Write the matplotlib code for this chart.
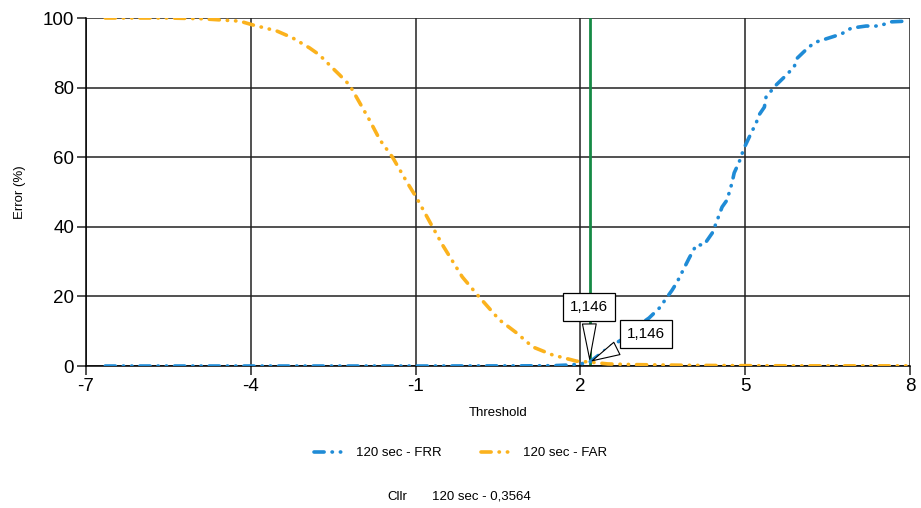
import matplotlib.pyplot as plt

plt.rcParams['font.family'] = ['Liberation Sans', 'DejaVu Sans']
plt.rcParams['axes.unicode_minus'] = False

# threshold / error (%) values
far_x = [-6.65, -5.5, -4.9, -4.2, -3.96, -3.53, -3.24, -2.93, -2.75, -2.51, -2.38, -2.2,
         -1.84, -1.65, -1.42, -1.16, -0.98, -0.71, -0.51, -0.15, 0.16, 0.53, 0.84, 1.13,
         1.49, 1.93, 2.17, 2.5, 3.0, 4.0, 5.0, 6.0, 7.0, 7.93]
far_y = [100, 100, 99.8, 99.1, 98.0, 96.3, 94.3, 91.4, 89.4, 85.6, 83.6, 80.7,
         70.7, 65, 60, 52.9, 48.3, 40.5, 34.8, 25.6, 19.8, 13.2, 9.5, 5.5,
         3.2, 1.4, 1.146, 0.6, 0.4, 0.2, 0.1, 0.05, 0.05, 0.05]

frr_x = [-6.65, -4, -1, 1.0, 1.5, 1.8, 2.0, 2.17, 2.53, 2.8, 3.0, 3.25, 3.44, 3.67, 3.76,
         3.98, 4.11, 4.25, 4.4, 4.47, 4.58, 4.67, 4.76, 4.8, 4.89, 4.98, 5.11, 5.2, 5.25,
         5.35, 5.38, 5.56, 5.71, 5.89, 5.95, 6.16, 6.29, 6.47, 6.75, 6.93, 7.2, 7.44,
         7.65, 7.93]
frr_y = [0, 0, 0, 0.05, 0.1, 0.3, 0.6, 1.146, 5.5, 8, 11, 13.8, 16.7, 21.8, 24.1,
         31, 34.8, 34.8, 38.2, 41, 45.7, 47.7, 52.6, 55.5, 58.6, 62.6, 67, 69.8, 72.1,
         74.4, 77.3, 80.7, 83, 85.9, 88.5, 91.7, 93.1, 94, 95.4, 97.1, 97.7, 97.7,
         98.9, 99.1]

eer_x = 2.17
eer_y = 1.146
eer_label = "1,146"
xticks = [-7, -4, -1, 2, 5, 8]
yticks = [0, 20, 40, 60, 80, 100]

blue = '#1f8bd6'
orange = '#fbb21d'
green = '#168a45'

fig = plt.figure(figsize=(9.21, 5.08), dpi=100)
ax = fig.add_axes([0.0934, 0.2795, 0.8946, 0.685])

# dash - dot - dot pattern
pattern = (2.8, 2.2, 0.1, 2.2, 0.1, 2.2)
ax.plot(frr_x, frr_y, color=blue, lw=2.6, dashes=pattern, dash_capstyle='round',
        label='120 sec - FRR', zorder=3)
ax.plot(far_x, far_y, color=orange, lw=2.6, dashes=pattern, dash_capstyle='round',
        label='120 sec - FAR', zorder=3)
ax.axvline(eer_x, color=green, lw=2, zorder=2)

ax.set_xlim(-7, 8)
ax.set_ylim(0, 100)
ax.set_xticks(xticks)
ax.set_yticks(yticks)
ax.grid(True, color='#222222', lw=1.1, zorder=1)
ax.set_axisbelow(True)
for s in ['top', 'right']:
    ax.spines[s].set_visible(False)
for s in ['left', 'bottom']:
    ax.spines[s].set_color('black')
    ax.spines[s].set_linewidth(1.1)
ax.tick_params(axis='both', labelsize=13.5, length=6.5, width=1.1, direction='out',
               color='#222222', pad=2)

ax.set_xlabel('Threshold', fontsize=9.5, labelpad=9)
ax.set_ylabel('Error (%)', fontsize=9.5, labelpad=12)

# callout boxes for the equal error rate
box = dict(boxstyle='square,pad=0.45', fc='white', ec='black', lw=0.9)
arrow = dict(arrowstyle='wedge,tail_width=0.9,shrink_factor=0.5', fc='white', ec='black', lw=0.8)
ax.annotate(eer_label, xy=(eer_x, eer_y), xytext=(eer_x - 0.01, 17), ha='center', va='center',
            fontsize=11, bbox=box, arrowprops=arrow, zorder=5)
ax.annotate(eer_label, xy=(eer_x, eer_y), xytext=(eer_x + 1.02, 9.2), ha='center', va='center',
            fontsize=11, bbox=box, arrowprops=arrow, zorder=5)

leg = fig.legend(loc='center', bbox_to_anchor=(0.5, 0.108), ncol=2, frameon=False,
                 fontsize=9.5, handlelength=2.4, columnspacing=3.0)

fig.text(0.421, 0.022, 'Cllr', fontsize=9.5, va='center')
fig.text(0.469, 0.022, '120 sec - 0,3564', fontsize=9.5, va='center')

fig.savefig('out.png', dpi=100)
